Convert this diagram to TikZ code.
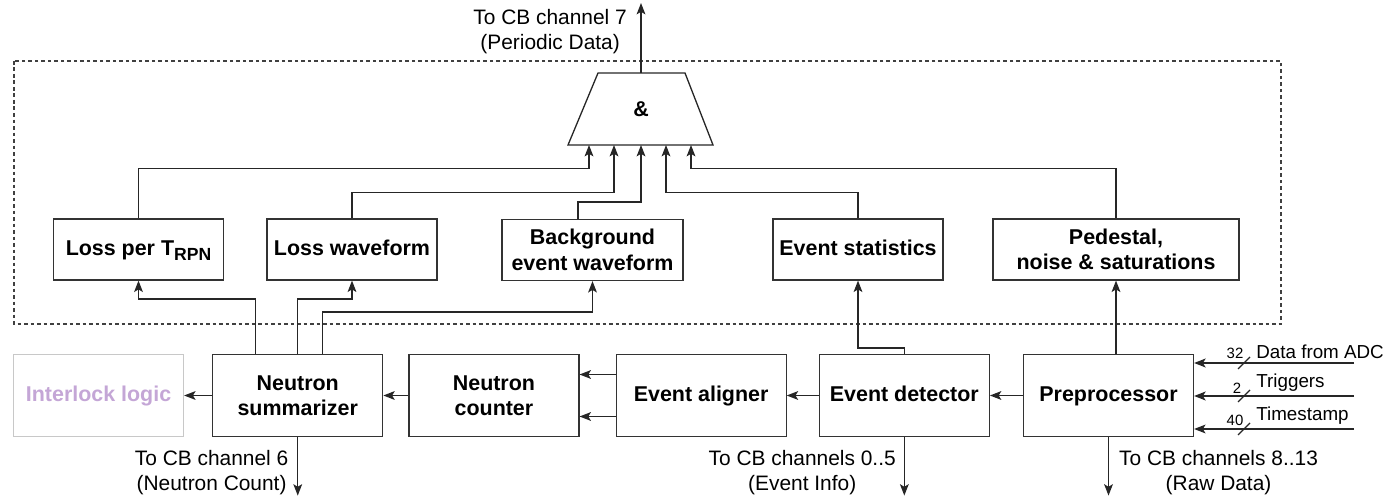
\documentclass[tikz,border=0pt]{standalone}
\usepackage{fontspec}
\setmainfont{Liberation Sans}
\usepackage{tikz}
\usetikzlibrary{arrows.meta,positioning}

\definecolor{ilgray}{RGB}{200,200,200}
\definecolor{ilpurple}{RGB}{196,166,214}

\begin{document}
\begin{tikzpicture}[->,>={Stealth[length=6.5pt,width=5pt,inset=1.5pt]},x=0.02cm,y=-0.02cm,
    every node/.style={font=\fontsize{11.9}{14.2}\selectfont},
    block/.style={draw=black!80,line width=0.7pt,minimum width=3.4cm,
        align=center,inner sep=0pt,font=\fontsize{12.2}{14.5}\selectfont\bfseries},
    oneline/.style={text height=0.966em,text depth=0.25em},
    upbox/.style={block,minimum height=1.22cm},
    lowbox/.style={block,minimum height=1.64cm},
    link/.style={line width=0.75pt,draw=black!85},
    lbl/.style={align=center,inner sep=0pt},
    inlbl/.style={inner sep=0pt,anchor=west,font=\fontsize{10.7}{12}\selectfont},
    buslbl/.style={inner sep=0pt,font=\fontsize{8.5}{9}\selectfont},
    frame/.style={dash pattern=on 2pt off 1.7pt,line width=0.6pt,draw=black!75}]

\useasboundingbox (0,0) rectangle (1398,499);

% monitoring frame
\draw[-,frame] (14,61) rectangle (1281,324);

% data combiner
\draw[-,link] (568,145) -- (598,73) -- (685,73) -- (713,145) -- cycle;
\node[font=\fontsize{12.2}{14.5}\selectfont\bfseries] (andop) at (641,109) {\&};
\coordinate (in1) at (589,145);
\coordinate (in2) at (614,145);
\coordinate (in3) at (641,145);
\coordinate (in4) at (666,145);
\coordinate (in5) at (691,145);
\coordinate (andtop) at (641,73);
\coordinate (ch7) at (641,3);

% periodic blocks
\node[upbox,oneline] (lossT) at (138.5,249.5) {Loss per T\raisebox{-2.8pt}{\fontsize{10}{10}\selectfont RPN}};
\node[upbox,oneline] (lossW) at (352,249.5) {Loss waveform};
\node[upbox,minimum width=3.62cm] (bgw) at (592.5,250) {Background\\event waveform};
\node[upbox,oneline] (evst) at (858,249.5) {Event statistics};
\node[upbox,minimum width=4.92cm] (ped) at (1116,249.5) {Pedestal,\\noise \& saturations};

% processing chain
\node[lowbox,oneline] (pre) at (1108.5,395.5) {Preprocessor};
\node[lowbox,oneline] (det) [left=0.66cm of pre] {Event detector};
\node[lowbox,oneline] (al) [left=0.64cm of det] {Event aligner};
\node[lowbox] (cnt) [left=0.72cm of al] {Neutron\\counter};
\node[lowbox] (sum) [left=0.50cm of cnt] {Neutron\\summarizer};
\node[lowbox,oneline,draw=ilgray,text=ilpurple] (il) [left=0.56cm of sum] {Interlock logic};

% into the combiner
\draw[link] (lossT.north) -- ++(0,-50) -| (in1);
\draw[link] (lossW.north) -- ++(0,-26) -| (in2);
\draw[link] ([xshift=-0.29cm]bgw.north) -- ++(0,-17) -| (in3);
\draw[link] (evst.north) -- ++(0,-26) -| (in4);
\draw[link] (ped.north) -- ++(0,-50) -| (in5);
\draw[link] (andtop) -- (ch7)
    node[lbl,pos=0.59,left=7.7pt] {To CB channel 7\\(Periodic Data)};

% chain to periodic blocks
\draw[link] (pre.north -| ped.south) -- (ped.south);
\draw[link] (det.north) -- ++(0,-6) -| (evst.south);
\draw[link] ([xshift=-0.84cm]sum.north) -- ++(0,-55) -| (lossT.south);
\draw[link] (sum.north) -- ++(0,-55) -| (lossW.south);
\draw[link] ([xshift=0.5cm]sum.north) -- ++(0,-42) -| (bgw.south);

% chain
\draw[link] (pre) -- (det);
\draw[link] (det) -- (al);
\draw[link] ([yshift=0.42cm]al.west) -- ([yshift=0.42cm]cnt.east);
\draw[link] ([yshift=-0.42cm]al.west) -- ([yshift=-0.42cm]cnt.east);
\draw[link] (cnt) -- (sum);
\draw[link] (sum) -- (il);

% outputs
\coordinate[below=1.17cm of sum] (ch6);
\coordinate[below=1.17cm of det] (ch05);
\coordinate[below=1.17cm of pre] (ch813);
\draw[link] (sum) -- (ch6)
    node[lbl,pos=0.6,left=5pt] {To CB channel 6\\(Neutron Count)};
\draw[link] (det) -- (ch05)
    node[lbl,pos=0.6,left=4.5pt] {To CB channels 0..5\\(Event Info)};
\draw[link] (pre) -- (ch813)
    node[lbl,pos=0.6,right=5.7pt] {To CB channels 8..13\\(Raw Data)};

% inputs
\coordinate (adc) at (1354,363);
\coordinate (trg) at (1354,396);
\coordinate (tst) at (1354,429);
\draw[link,line width=1.1pt] (adc) -- (adc -| pre.east);
\draw[link,line width=1.1pt] (trg) -- (trg -| pre.east);
\draw[link] (tst) -- (tst -| pre.east);
\draw[-,link] ([shift={(-116,6)}]adc) -- ++(12,-12);
\draw[-,link] ([shift={(-116,6)}]trg) -- ++(12,-12);
\draw[-,link] ([shift={(-116,6)}]tst) -- ++(12,-12);
\node[buslbl] (w32) at ([shift={(-119,-10)}]adc) {32};
\node[buslbl] (w2) at ([shift={(-117,-8)}]trg) {2};
\node[buslbl] (w40) at ([shift={(-119,-9)}]tst) {40};
\node[inlbl] (adcl) at ([shift={(-98,-11)}]adc) {Data from ADC};
\node[inlbl] (trgl) at ([shift={(-98,-13)}]trg) {Triggers};
\node[inlbl] (tstl) at ([shift={(-98,-13)}]tst) {Timestamp};

\end{tikzpicture}
\end{document}
